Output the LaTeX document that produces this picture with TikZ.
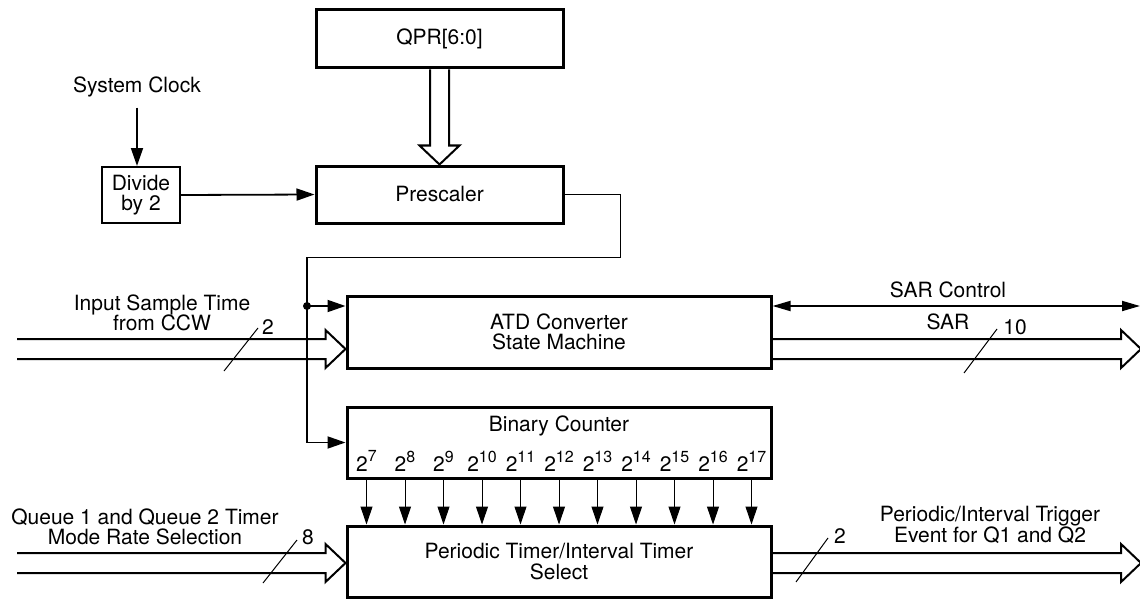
\documentclass[tikz,border=0pt]{standalone}
\usepackage{fontspec}
\setmainfont{TeX Gyre Heros}
\usetikzlibrary{arrows.meta,calc}

\tikzset{
  blk/.style={draw,line width=1.5pt,inner sep=0pt,align=center},
  lbl/.style={inner sep=0pt,align=center},
  conn/.style={line width=0.9pt,-{Triangle[length=9pt,width=6pt]}},
  thinconn/.style={line width=0.5pt,-{Triangle[length=9pt,width=6pt]}},
  dblconn/.style={line width=0.9pt,{Triangle[length=9pt,width=5pt]}-{Triangle[length=9pt,width=5pt]}},
  bus/.style={line width=1pt,line join=miter},
  dotnode/.style={circle,fill,inner sep=0pt,minimum size=4pt},
}
\newcommand{\pw}[1]{2\raisebox{0.85ex}{\fontsize{8}{8}\selectfont#1}}
\newcommand{\busarrow}[2]{%
  \draw[bus] ($(#1)+(0,-10)$) -- ($(#2)+(-20,-10)$) -- ($(#2)+(-20,-19)$) -- (#2)
    -- ($(#2)+(-20,19)$) -- ($(#2)+(-20,10)$) -- ($(#1)+(0,10)$);}

\begin{document}
\begin{tikzpicture}[x=0.5pt,y=-0.5pt,font=\fontsize{10.5}{10.2}\selectfont]
\useasboundingbox (0,0) rectangle (1140,599);
% blocks
\node[blk,minimum width=123.5pt,minimum height=29pt] (qpr) at (439.5,39) {QPR[6:0]};
\node[blk,minimum width=123.5pt,minimum height=28.5pt] (pre) at (439.5,194.5) {Prescaler};
\node[blk,line width=1pt,minimum width=39pt,minimum height=28pt] (div) at (141,195) {Divide\\by 2};
\node[blk,minimum width=212pt,minimum height=36pt] (atd) at (559,332) {ATD Converter\\State Machine};
\node[blk,minimum width=212pt,minimum height=35.5pt] (bin) at (559,442.5) {};
\node[lbl] (bintxt) at (559,426) {Binary Counter};
\node[blk,minimum width=212pt,minimum height=35.5pt] (pt) at (559,561.5) {Periodic Timer/Interval Timer\\Select};
% labels
\node[lbl] (sysclk) at (137,87) {System Clock};
\node[lbl] (insmp) at (162,313) {Input Sample Time\\from CCW};
\node[lbl] (qsel) at (145,527) {Queue 1 and Queue 2 Timer\\Mode Rate Selection};
\node[lbl] (sarctltxt) at (948,290) {SAR Control};
\node[lbl] (sartxt) at (948,322) {SAR};
\node[lbl] (trig) at (990,525) {Periodic/Interval Trigger\\Event for Q1 and Q2};
\node[lbl] (w1) at (268,327) {2};
\node[lbl] (w2) at (308,537) {8};
\node[lbl] (w3) at (1015,327) {10};
\node[lbl] (w4) at (840,536) {2};
% clock path
\draw[conn] ([yshift=-5pt]sysclk.south) -- (sysclk.south |- div.north);
\draw[conn] (div.east) -- (pre.east -| pre.west);
\coordinate (busjoin) at (307,257);
\draw[line width=0.5pt] (pre.east) -- ++(56,0) |- (busjoin);
\draw[conn] (busjoin) |- (bin.west);
\node[dotnode] (tap) at (307,306) {};
\draw[conn] (tap.center) -- (tap.center -| atd.west);
% QPR bus
\draw[bus] ($(qpr.south)+(-9.5,0)$) -- ($(pre.north)+(-9.5,-19)$) -- ($(pre.north)+(-20,-19)$) -- (pre.north)
  -- ($(pre.north)+(20,-19)$) -- ($(pre.north)+(9.5,-19)$) -- ($(qpr.south)+(9.5,0)$);
% counter taps
\foreach \k in {7,...,17} {
  \node[lbl] (p\k) at ({559+38.5*(\k-12)},461) {\pw{\k}};
  \draw[thinconn] (p\k.center |- bin.south) -- (p\k.center |- pt.north);
}
% buses in and out
\coordinate (inatd) at (17,349);
\busarrow{inatd}{inatd -| atd.west}
\coordinate (outsar) at (1141,349);
\busarrow{outsar -| atd.east}{outsar}
\coordinate (inpt) at (17,563);
\busarrow{inpt}{inpt -| pt.west}
\coordinate (outpt) at (1141,563);
\busarrow{outpt -| pt.east}{outpt}
\coordinate (sarctl) at (1140,306);
\draw[dblconn] (sarctl -| atd.east) -- (sarctl);
% width marks
\draw[line width=0.5pt] (224,371) -- (258,328);
\draw[line width=0.5pt] (263,583) -- (297,540);
\draw[line width=0.5pt] (964,373) -- (997,329);
\draw[line width=0.5pt] (796,582) -- (828,538);
\end{tikzpicture}
\end{document}
